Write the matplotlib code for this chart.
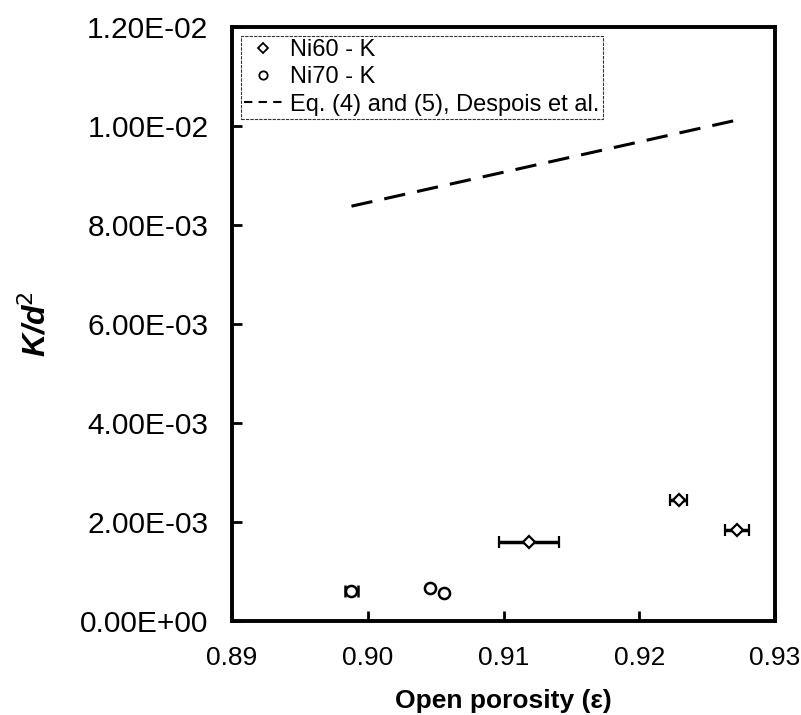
import numpy as np
import matplotlib
matplotlib.use("Agg")
from matplotlib import pyplot as plt
from matplotlib.lines import Line2D
from matplotlib.ticker import FuncFormatter

plt.rcParams['font.family'] = ['Liberation Sans', 'DejaVu Sans']

# Ni60 - K (diamonds)
ni60_x = [0.9119, 0.9229, 0.9272]
ni60_y = [1.60e-3, 2.44e-3, 1.84e-3]
ni60_xerr = [0.0022, 0.0006, 0.0009]

# Ni70 - K (circles)
ni70_x = [0.8988, 0.9046, 0.9056]
ni70_y = [0.60e-3, 0.67e-3, 0.57e-3]
ni70_xerr = [0.0005, 0.0, 0.0]

# Eq. (4) and (5), Despois et al.
model_x = [0.8988, 0.9272]
model_y = [8.38e-3, 1.012e-2]

xticks = [0.89, 0.90, 0.91, 0.92, 0.93]
yticks = [0.0, 0.002, 0.004, 0.006, 0.008, 0.010, 0.012]

fig = plt.figure(figsize=(8.01, 7.15), dpi=100)
ax = fig.add_axes([232 / 801, 94 / 715, 543 / 801, 594 / 715])

ax.errorbar(ni60_x, ni60_y, xerr=ni60_xerr, fmt='D', ms=6, mfc='white',
            mec='black', mew=1.6, ecolor='black', elinewidth=2.5, capsize=4,
            capthick=2.5)
ax.errorbar(ni70_x, ni70_y, xerr=ni70_xerr, fmt='o', ms=8, mfc='white',
            mec='black', mew=1.8, ecolor='black', elinewidth=2.5, capsize=4,
            capthick=2.5)
ax.plot(model_x, model_y, color='black', lw=2.2, dashes=(7, 4))

ax.set_xlim(0.89, 0.93)
ax.set_ylim(0, 0.012)
ax.set_xticks(xticks)
ax.set_yticks(yticks)
ax.xaxis.set_major_formatter(FuncFormatter(lambda v, p: f"{v:.2f}"))
ax.yaxis.set_major_formatter(FuncFormatter(lambda v, p: f"{v:.2E}"))

for s in ax.spines.values():
    s.set_linewidth(2.8)
ax.tick_params(direction='in', length=7, width=2)
ax.tick_params(axis='x', labelsize=19, pad=18)
ax.tick_params(axis='y', labelsize=21.5, pad=17)

ax.set_xlabel('Open porosity (ε)', fontsize=19, fontweight='bold', labelpad=14)
ax.set_ylabel('K/d$^2$', fontsize=23, fontweight='bold', style='italic',
              labelpad=20)

# legend: markers only, no error bars
handles = [
    Line2D([], [], ls='none', marker='D', ms=5, mfc='white', mec='black', mew=1.3),
    Line2D([], [], ls='none', marker='o', ms=6, mfc='white', mec='black', mew=1.3),
    Line2D([], [], color='black', lw=1.5, dashes=(4, 3)),
]
labels = ['Ni60 - K', 'Ni70 - K', 'Eq. (4) and (5), Despois et al.']
leg = ax.legend(handles, labels, loc='upper left', fontsize=17,
                frameon=True, fancybox=False, borderpad=0.12,
                handlelength=1.6, handletextpad=0.35, labelspacing=0.22,
                borderaxespad=0.4)
leg.get_frame().set_edgecolor('black')
leg.get_frame().set_linewidth(0.8)
leg.get_frame().set_linestyle((0, (3, 1)))

fig.savefig('out.png', dpi=100)
